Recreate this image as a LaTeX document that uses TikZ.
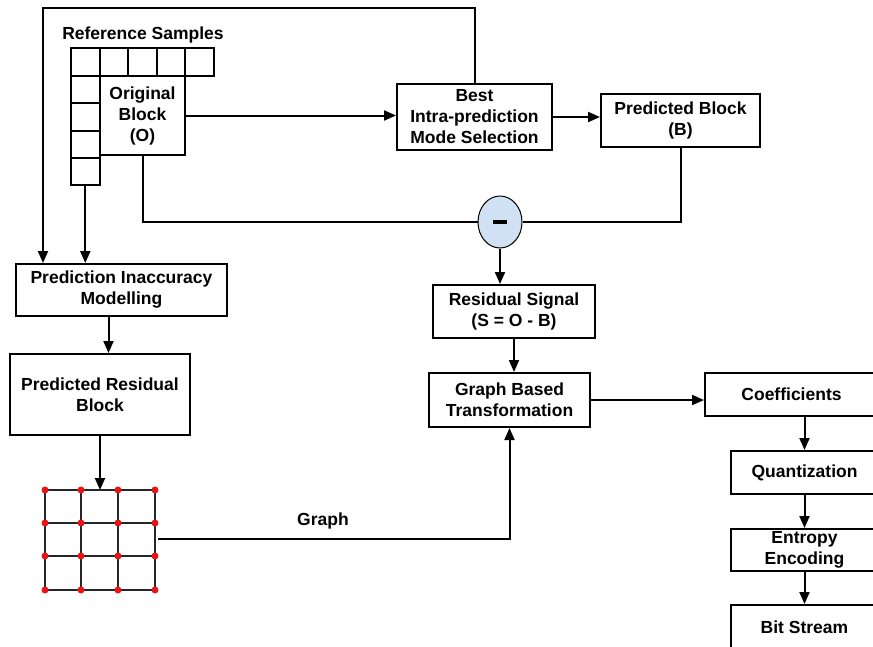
\documentclass[tikz,border=0pt]{standalone}
\usepackage{fontspec}
\setmainfont{Liberation Sans}
\usetikzlibrary{shapes.geometric, arrows.meta, positioning, calc}
\definecolor{cMinus}{RGB}{207, 225, 242}
\definecolor{cDot}{RGB}{235, 20, 20}
\definecolor{tDark}{RGB}{0, 0, 0}

\begin{document}
\begin{tikzpicture}[
    x=1pt, y=1pt,
    font=\fontsize{17.5}{21}\selectfont\bfseries,
    >={Triangle[length=12pt, width=10pt]},
    block/.style={
        draw=tDark,
        line width=2pt,
        align=center,
        inner sep=0pt,
        minimum width=#1
    },
    refcell/.style={draw=tDark, line width=2pt, inner sep=0pt,
        minimum width=28.6pt, minimum height=#1},
    dotnode/.style={circle, fill=cDot, inner sep=0pt, minimum size=7pt},
    gridline/.style={line width=1.6pt, color=tDark!85},
    link/.style={line width=2pt, color=tDark},
    arrow/.style={->, line width=2pt, color=tDark}
]
\useasboundingbox (0,0) rectangle (873,-646);

\node (refLbl) at (143,-35) {Reference Samples};

% Reference samples around the original block
\foreach \i in {0,...,4}
    \node[refcell=28pt] (top\i) at ({85.3+28.6*\i},-62) {};
\foreach \i in {1,...,4}
    \node[refcell=27.25pt] (side\i) at (85.3,{-62.4-27.25*\i}) {};

\node[block=85pt, minimum height=79pt] (orig) at (142.5,-115.5) {Original\\Block\\(O)};

% Top row
\node[block=155pt, minimum height=66pt] (best) at (474.5,-117) {Best\\Intra-prediction\\Mode Selection};
\node[block=159pt, minimum height=53pt] (predB) at (680.5,-120.5) {Predicted Block\\(B)};

\node[ellipse, draw=tDark, line width=1pt, fill=cMinus, minimum width=44pt,
      minimum height=52pt, inner sep=0pt] (minus) at (500,-222) {\rule{14pt}{4pt}};

% Middle column
\node[block=162pt, minimum height=53pt] (resid) at (514,-311.5) {Residual Signal\\(S = O - B)};
\node[block=161pt, minimum height=54pt] (gbt) at (509.5,-400) {Graph Based\\Transformation};

% Right column
\node[block=173pt, minimum height=43pt] (coef) at (791.5,-394.5) {Coefficients};
\node[block=147pt, minimum height=43pt] (quant) at (804.5,-472.5) {Quantization};
\node[block=147pt, minimum height=42pt] (entropy) at (804.5,-550) {Entropy\\Encoding};
\node[block=147pt, minimum height=44pt] (bits) at (804.5,-627) {Bit Stream};

% Left column
\node[block=211pt, minimum height=52pt] (pim) at (121.5,-290) {Prediction Inaccuracy\\Modelling};
\node[block=180pt, minimum height=81pt] (prb) at (100,-394.5) {Predicted Residual\\Block};

% Graph
\foreach \i/\gx in {1/45,2/81,3/118,4/155}
    \foreach \j/\gy in {1/490,2/523,3/556,4/590}
        \coordinate (g\i\j) at (\gx,-\gy);
\foreach \k in {1,...,4} {
    \draw[gridline] (g\k1) -- (g\k4);
    \draw[gridline] (g1\k) -- (g4\k);
}
\foreach \i in {1,...,4}
    \foreach \j in {1,...,4}
        \node[dotnode] (d\i\j) at (g\i\j) {};

\coordinate (fbCorner) at (43,-8);
\coordinate (gridOut) at (158,-539);
\node (graphLbl) at (323,-521) {Graph};

% Connectors
\draw[arrow] (best.north) |- (fbCorner) -- (fbCorner |- pim.north);
\draw[arrow] (side4.south) -- (side4.south |- pim.north);
\draw[arrow] (orig.east) -- (orig.east -| best.west);
\draw[arrow] (best.east) -- (best.east -| predB.west);
\draw[link] (orig.south) |- (minus.west);
\draw[link] (predB.south) |- (minus.east);
\draw[arrow] (minus.south) -- (minus.south |- resid.north);
\draw[arrow] (resid.south) -- (resid.south |- gbt.north);
\draw[arrow] (gbt.east) -- (gbt.east -| coef.west);
\draw[arrow] (quant.north |- coef.south) -- (quant.north);
\draw[arrow] (quant) -- (entropy);
\draw[arrow] (entropy) -- (bits);
\draw[arrow] ([xshift=-13pt]pim.south) -- ([xshift=-13pt]pim.south |- prb.north);
\draw[arrow] (prb.south) -- (prb.south |- g11);
\draw[arrow] (gridOut) -| (gbt.south);

\end{tikzpicture}
\end{document}
